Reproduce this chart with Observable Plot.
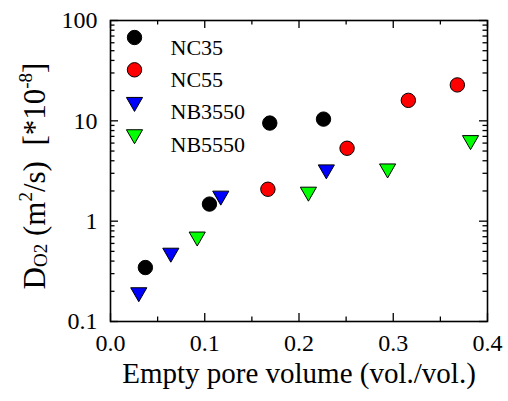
<!DOCTYPE html>
<html>
<head>
<meta charset="utf-8">
<script src="https://cdn.jsdelivr.net/npm/d3@7"></script>
<script src="https://cdn.jsdelivr.net/npm/@observablehq/plot@0.6"></script>
<style>
  html, body { margin: 0; padding: 0; background: #fff; }
  svg { display: block; }
</style>
</head>
<body>
<div id="chart"></div>
<script>
// ---- data ----
const seriesNames = ["NC35", "NC55", "NB3550", "NB5550"];
const seriesFill = ["#000000", "#ff0000", "#0000ff", "#00ff00"];
const seriesShape = ["circle", "circle", "triangleDown", "triangleDown"];

const nc35X = [0.037, 0.105, 0.169, 0.226];
const nc35Y = [0.345, 1.48, 9.5, 10.4];
const nc55X = [0.167, 0.251, 0.316, 0.368];
const nc55Y = [2.08, 5.33, 16.0, 22.8];
const nb3550X = [0.030, 0.064, 0.117, 0.229];
const nb3550Y = [0.195, 0.483, 1.79, 3.27];
const nb5550X = [0.092, 0.210, 0.294, 0.382];
const nb5550Y = [0.70, 1.96, 3.34, 6.4];

const xMajorTicks = [0, 0.1, 0.2, 0.3, 0.4];
const xMinorTicks = [0.05, 0.15, 0.25, 0.35];
const xTickLabels = ["0.0", "0.1", "0.2", "0.3", "0.4"];
const yMajorTicks = [0.1, 1, 10, 100];
const yTickLabels = ["0.1", "1", "10", "100"];
const yMinorTicks = [];
for (const d of [0.1, 1, 10]) for (let k = 2; k <= 9; k++) yMinorTicks.push(+(d * k).toPrecision(3));

const xTitle = "Empty pore volume (vol./vol.)";

// ---- build table ----
const xs = [nc35X, nc55X, nb3550X, nb5550X];
const ys = [nc35Y, nc55Y, nb3550Y, nb5550Y];
const rows = [];
seriesNames.forEach((s, i) => xs[i].forEach((x, j) => rows.push({series: s, x, y: ys[i][j], i})));

const triangleDown = {
  draw(context, size) {
    const y = Math.sqrt(size / (Math.sqrt(3) * 3));
    context.moveTo(0, 2 * y);
    context.lineTo(-Math.sqrt(3) * y, -y);
    context.lineTo(Math.sqrt(3) * y, -y);
    context.closePath();
  }
};
const symbolFor = i => seriesShape[i] === "circle" ? "circle" : triangleDown;
const rFor = i => seriesShape[i] === "circle" ? 7.2 : 6;

const FONT = "Liberation Serif";
const W = 508, H = 401;
const mL = 110, mR = 21, mT = 20, mB = 80;
const fw = W - mL - mR, fh = H - mT - mB;
const majLen = 8, minLen = 4.5;

const marks = [];
// points
seriesNames.forEach((s, i) => {
  marks.push(Plot.dot(rows.filter(d => d.i === i), {
    x: "x", y: "y", symbol: symbolFor(i), r: rFor(i),
    fill: seriesFill[i], stroke: "#000", strokeWidth: 1
  }));
});
// inward ticks on all four sides
const tk = {stroke: "#000", strokeWidth: 1.3};
marks.push(
  Plot.ruleX(xMajorTicks, {x: d => d, insetTop: fh - majLen, ...tk}),
  Plot.ruleX(xMajorTicks, {x: d => d, insetBottom: fh - majLen, ...tk}),
  Plot.ruleX(xMinorTicks, {x: d => d, insetTop: fh - minLen, ...tk}),
  Plot.ruleX(xMinorTicks, {x: d => d, insetBottom: fh - minLen, ...tk}),
  Plot.ruleY(yMajorTicks, {y: d => d, insetRight: fw - majLen, ...tk}),
  Plot.ruleY(yMajorTicks, {y: d => d, insetLeft: fw - majLen, ...tk}),
  Plot.ruleY(yMinorTicks, {y: d => d, insetRight: fw - minLen, ...tk}),
  Plot.ruleY(yMinorTicks, {y: d => d, insetLeft: fw - minLen, ...tk}),
  Plot.frame({stroke: "#000", strokeWidth: 1.6})
);
// tick labels
marks.push(
  Plot.text(xMajorTicks, {x: d => d, frameAnchor: "bottom", dy: 29, text: (d, i) => xTickLabels[i],
    fontFamily: FONT, fontSize: 24, fill: "#000"}),
  Plot.text(yMajorTicks, {y: d => d, frameAnchor: "left", dx: -13, textAnchor: "end", text: (d, i) => yTickLabels[i],
    fontFamily: FONT, fontSize: 24, fill: "#000"}),
  Plot.text([xTitle], {frameAnchor: "bottom", dy: 61, text: d => d, fontFamily: FONT, fontSize: 29, fill: "#000"})
);
// legend inside the frame
seriesNames.forEach((s, i) => {
  marks.push(
    Plot.dot([s], {frameAnchor: "top-left", dx: 24, dy: 17 + i * 32.3, symbol: symbolFor(i), r: rFor(i),
      fill: seriesFill[i], stroke: "#000", strokeWidth: 1}),
    Plot.text([s], {frameAnchor: "top-left", dx: 60, dy: 18.5 + i * 32.3, text: d => d,
      textAnchor: "start", fontFamily: FONT, fontSize: 22, fill: "#000"})
  );
});

const chart = Plot.plot({
  width: W, height: H,
  marginLeft: mL, marginRight: mR, marginTop: mT, marginBottom: mB,
  style: {fontFamily: FONT, color: "#000", background: "#fff"},
  x: {type: "linear", domain: [0, 0.4], axis: null},
  y: {type: "log", domain: [0.1, 100], axis: null},
  marks
});
document.getElementById("chart").appendChild(chart);

// y-axis title with subscript / superscripts
const svg = d3.select(chart);
const t = svg.append("text")
  .attr("transform", "translate(45,176) rotate(-90)")
  .attr("text-anchor", "middle")
  .attr("font-family", FONT)
  .attr("font-size", 31)
  .attr("fill", "#000")
  .style("white-space", "pre");
t.append("tspan").text("D");
t.append("tspan").attr("font-size", 19).attr("dy", 2).text("O2");
t.append("tspan").attr("dy", -2).text(" (m");
t.append("tspan").attr("font-size", 19).attr("dy", -13).text("2");
t.append("tspan").attr("dy", 13).text("/s)  [*10");
t.append("tspan").attr("font-size", 19).attr("dy", -13).text("-8");
t.append("tspan").attr("dy", 13).text("]");
</script>
</body>
</html>
